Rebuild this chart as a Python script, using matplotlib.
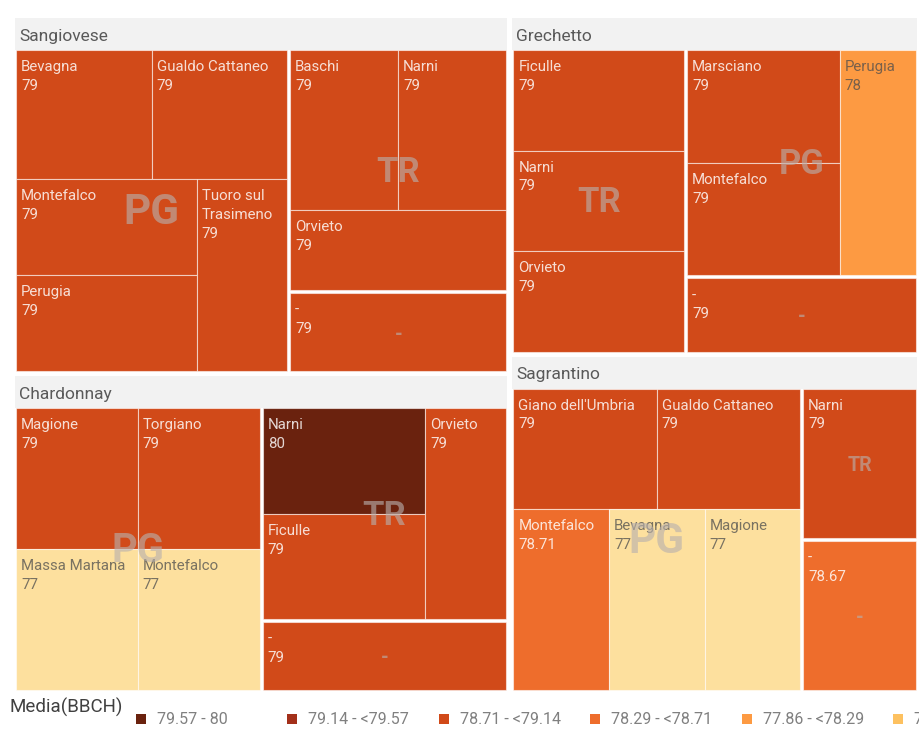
import matplotlib.pyplot as plt
from matplotlib.patches import Rectangle
import numpy as np
import pandas as pd
import textwrap

plt.rcParams['font.family'] = ['Roboto', 'DejaVu Sans']

# Varieties (top level), in the order the treemap places them
varieties = ['Sangiovese', 'Chardonnay', 'Grechetto', 'Sagrantino']

# One record per comune: variety, province, comune, mean BBCH
leaf_variety = ['Sangiovese'] * 9 + ['Chardonnay'] * 8 + ['Grechetto'] * 7 + ['Sagrantino'] * 7
leaf_province = ['PG', 'PG', 'PG', 'PG', 'PG', 'TR', 'TR', 'TR', '-',
                 'PG', 'PG', 'PG', 'PG', 'TR', 'TR', 'TR', '-',
                 'TR', 'TR', 'TR', 'PG', 'PG', 'PG', '-',
                 'PG', 'PG', 'PG', 'PG', 'PG', 'TR', '-']
leaf_comune = ['Bevagna', 'Gualdo Cattaneo', 'Montefalco', 'Perugia', 'Tuoro sul Trasimeno',
               'Baschi', 'Narni', 'Orvieto', '-',
               'Magione', 'Torgiano', 'Massa Martana', 'Montefalco', 'Narni', 'Ficulle', 'Orvieto', '-',
               'Ficulle', 'Narni', 'Orvieto', 'Marsciano', 'Montefalco', 'Perugia', '-',
               "Giano dell'Umbria", 'Gualdo Cattaneo', 'Montefalco', 'Bevagna', 'Magione', 'Narni', '-']
leaf_bbch = [79, 79, 79, 79, 79, 79, 79, 79, 79,
             79, 79, 77, 77, 80, 79, 79, 79,
             79, 79, 79, 79, 79, 78, 79,
             79, 79, 78.71, 77, 77, 79, 78.67]

# Colour classes of Media(BBCH)
bin_edges = [77.0, 77.4286, 77.8571, 78.2857, 78.7143, 79.1429, 79.5714, 80.0]
bin_colors = ['#fde09e', '#fdc160', '#fd9a42', '#ee6d2c', '#d14a19', '#a3301a', '#6a220e']

HEADER = 32
GAP = 5
PGAP = 3


def fmt(v):
    return f'{v:.2f}'.rstrip('0').rstrip('.')


def worst(row, side):
    s = sum(row)
    return max(max(side ** 2 * r / s ** 2, s ** 2 / (side ** 2 * r)) for r in row)


def squarify(sizes, x, y, w, h):
    """Squarified treemap layout (y grows downwards)."""
    sizes = np.asarray(sizes, float)
    sizes = sizes * w * h / sizes.sum()
    rects = []
    i = 0
    while i < len(sizes):
        side = min(w, h)
        row = [sizes[i]]
        j = i + 1
        while j < len(sizes) and worst(row + [sizes[j]], side) < worst(row, side):
            row.append(sizes[j])
            j += 1
        s = sum(row)
        if w >= h:
            cw = s / h
            yy = y
            for a in row:
                rects.append((x, yy, cw, a / cw))
                yy += a / cw
            x += cw
            w -= cw
        else:
            rh = s / w
            xx = x
            for a in row:
                rects.append((xx, y, a / rh, rh))
                xx += a / rh
            y += rh
            h -= rh
        i = j
    return rects


def color_for(v):
    k = np.clip(np.searchsorted(bin_edges, v, side='right') - 1, 0, len(bin_colors) - 1)
    return k, bin_colors[k]


df = pd.DataFrame({'variety': leaf_variety, 'province': leaf_province,
                   'comune': leaf_comune, 'bbch': leaf_bbch})

fig = plt.figure(figsize=(9.2, 7.36), dpi=100)
ax = fig.add_axes([0, 0, 1, 1])
ax.set_xlim(0, 920)
ax.set_ylim(736, 0)
ax.axis('off')

var_counts = df.groupby('variety', sort=False).size().reindex(varieties)
cells = squarify(var_counts.values, 15, 18, 902 + GAP, 672 + GAP)

for var, (gx, gy, gw, gh) in zip(varieties, cells):
    gw -= GAP
    gh -= GAP
    ax.add_patch(Rectangle((gx, gy), gw, HEADER, fc='#f2f2f2', ec='none'))
    ax.text(gx + 4, gy + 23, var, fontsize=12.5, color='#595959', va='baseline')

    sub = df[df.variety == var]
    prov_counts = sub.groupby('province', sort=False).size()
    cx, cy, cw, ch = gx + 1, gy + HEADER, gw - 2, gh - HEADER
    pcells = squarify(prov_counts.values, cx, cy, cw + PGAP, ch + PGAP)

    for prov, (px, py, pw, ph) in zip(prov_counts.index, pcells):
        pw -= PGAP
        ph -= PGAP
        leaves = sub[sub.province == prov]
        leaf_counts = leaves.groupby('comune', sort=False).size()
        lcells = squarify(leaf_counts.values, px, py, pw, ph)
        for (_, rec), (lx, ly, lw, lh) in zip(leaves.iterrows(), lcells):
            k, col = color_for(rec.bbch)
            ax.add_patch(Rectangle((lx, ly), lw, lh, fc=col, ec=(1, 1, 1, 0.55), lw=0.8))
            if k <= 2:
                tcol, talpha = '#4d4d4d', 0.75
            else:
                tcol, talpha = '#ffffff', 0.82
            lines = textwrap.wrap(rec.comune, max(4, int((lw - 10) / 7.6))) or [rec.comune]
            lines.append(fmt(rec.bbch))
            for n, line in enumerate(lines):
                ax.text(lx + 5, ly + 21 + n * 19, line, fontsize=10.8, color=tcol,
                        alpha=talpha, va='baseline', ha='left')

        # province watermark
        size_px = min(0.108 * np.sqrt(pw * ph), 30) / 0.71
        ax.text(px + pw / 2, py + ph / 2 + 2, prov, fontsize=size_px / 1.389,
                fontweight='bold', color='#b8b0ad', alpha=0.62,
                ha='center', va='center')

# Legend
ax.text(10, 707, 'Media(BBCH)', fontsize=13.5, color='#404040', va='center', ha='left')
for n in range(len(bin_colors)):
    k = len(bin_colors) - 1 - n
    lo, hi = bin_edges[k], bin_edges[k + 1]
    label = f'{fmt(lo)} - {fmt(hi)}' if n == 0 else f'{fmt(lo)} - <{fmt(hi)}'
    x0 = 136 + n * 151.5
    ax.add_patch(Rectangle((x0, 714), 10, 10, fc=bin_colors[k], ec='none'))
    ax.text(x0 + 21, 719.5, label, fontsize=11.5, color='#808080', va='center', ha='left')

fig.savefig('out.png', dpi=100)
